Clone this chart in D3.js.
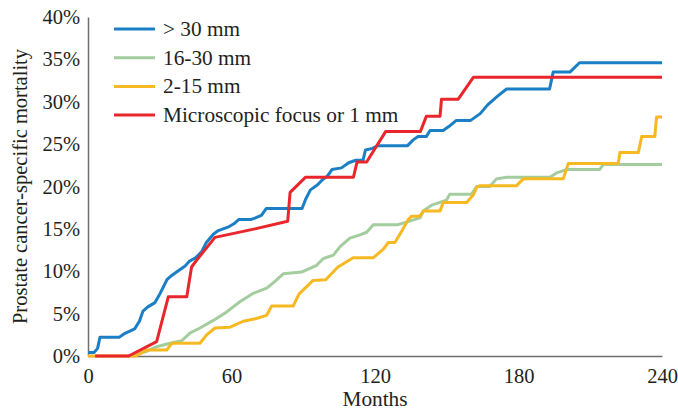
<!DOCTYPE html>
<html>
<head>
<meta charset="utf-8">
<script src="https://cdn.jsdelivr.net/npm/d3@7"></script>
<style>
  html, body { margin: 0; padding: 0; background: #fff; }
  #app { width: 678px; height: 410px; }
  text { font-family: "Liberation Serif", "DejaVu Serif", serif; fill: #231f20; }
</style>
</head>
<body>
<div id="app"></div>
<script>
// series: [month, mortality %]
const over30 = [[0,0.4],[2.5,0.4],[4,0.9],[5,2.2],[13,2.2],[15,2.6],[19.5,3.2],[21.5,4.1],[23,5.3],[25,5.8],[28,6.3],[30,7.3],[33,9.0],[35,9.5],[38.5,10.2],[40.5,10.6],[42.5,11.2],[45,11.6],[47.5,12.3],[49.5,13.4],[52.5,14.4],[54.5,14.8],[58.5,15.2],[61,15.6],[63,16.1],[68,16.1],[70,16.3],[72.5,16.6],[74.5,17.4],[89.5,17.4],[91,18.5],[93,19.6],[96,20.2],[98,20.8],[100,21.2],[102,22.0],[106,22.2],[109,22.8],[112,23.1],[115,23.1],[116,24.3],[119,24.5],[121,24.8],[133.5,24.8],[136,25.5],[138,25.9],[141.5,25.9],[143,26.6],[148.5,26.6],[151,27.1],[154,27.8],[160,27.8],[164,28.6],[167,29.6],[171,30.6],[175,31.5],[193,31.5],[194.5,33.5],[201.5,33.5],[205.5,34.6],[240,34.6]];
const mm16to30 = [[19,0.1],[24,0.5],[28.7,1.1],[34.3,1.5],[39.2,1.8],[42.6,2.7],[46.8,3.3],[52.4,4.2],[58,5.2],[63.5,6.4],[69.1,7.4],[74.7,8.0],[78.2,8.8],[81.6,9.7],[89.3,9.9],[95.6,10.7],[98.4,11.5],[102.6,11.9],[105.4,12.9],[109.5,13.9],[113.7,14.3],[116.5,14.6],[119.3,15.5],[129.7,15.5],[138.8,16.3],[140.2,17.1],[143.7,17.8],[149.9,18.4],[151.3,19.1],[160.4,19.1],[162.5,20.0],[168,20.0],[170.8,20.9],[175,21.1],[193.1,21.1],[195.9,21.6],[200.1,22.0],[214,22.0],[215.4,22.6],[240,22.6]];
const mm2to15 = [[0,0],[20,0],[24.5,0.7],[32.9,0.7],[35,1.5],[46.8,1.5],[49.6,2.5],[53.1,3.3],[59.4,3.4],[64.9,4.1],[70,4.4],[74.7,4.8],[76.8,5.9],[85.8,5.9],[88.2,7.3],[90,7.8],[94,8.9],[99.4,9.0],[104.5,10.5],[110.9,11.6],[119.3,11.6],[123.5,12.6],[125.6,13.4],[128.3,13.4],[131.1,14.7],[133.9,16.1],[135.3,16.5],[138.8,16.5],[140.2,17.1],[147.2,17.1],[148.5,18.1],[158.3,18.1],[161.1,19.0],[162.5,19.9],[163.9,20.1],[179.2,20.1],[182,20.9],[198.7,20.9],[200.8,22.7],[221.7,22.7],[222.4,24.0],[230.1,24.0],[231.5,25.9],[237,25.9],[237.7,28.2],[240,28.2]];
const microscopic = [[3,0],[17,0],[28.7,1.7],[33.6,7.0],[41.3,7.0],[43.3,10.5],[45.4,11.3],[53.1,14.0],[69.8,15.0],[83.5,15.9],[84.5,19.3],[91,21.1],[111,21.1],[112.5,22.9],[116.5,22.9],[124.5,26.5],[139,26.5],[141.5,28.3],[147.2,28.3],[147.8,30.3],[154.8,30.3],[161.2,32.9],[240,32.9]];

const seriesNames = ['> 30 mm', '16-30 mm', '2-15 mm', 'Microscopic focus or 1 mm'];
const seriesColors = ['#1b7fc6', '#a3cc9f', '#f6b922', '#e8262b'];
const seriesData = [over30, mm16to30, mm2to15, microscopic];

const xTicks = [0, 60, 120, 180, 240];
const yTicks = [0, 5, 10, 15, 20, 25, 30, 35, 40];

const width = 678;
const height = 410;
const margin = { top: 17, right: 16, bottom: 54, left: 88 };

const svg = d3.select('#app').append('svg')
	.attr('width', width)
	.attr('height', height);

const x = d3.scaleLinear().domain([0, 240]).range([margin.left, width - margin.right]);
const y = d3.scaleLinear().domain([0, 40]).range([height - margin.bottom, margin.top]);

// axes
const xAxis = svg.append('g')
	.attr('transform', `translate(0,${height - margin.bottom})`)
	.call(d3.axisBottom(x).tickValues(xTicks).tickSize(0).tickPadding(12));
const yAxis = svg.append('g')
	.attr('transform', `translate(${margin.left},0)`)
	.call(d3.axisLeft(y).tickValues(yTicks).tickSize(0).tickPadding(8).tickFormat((d) => d + '%'));

[xAxis, yAxis].forEach((g) => {
	g.select('.domain').attr('stroke', '#6d6e71').attr('stroke-width', 1.5);
	g.selectAll('text')
		.attr('font-family', '"Liberation Serif", serif')
		.attr('font-size', 20.5)
		.attr('fill', '#231f20');
});

// lines
const line = d3.line()
	.x((d) => x(d[0]))
	.y((d) => y(d[1]));

svg.selectAll('path.series')
	.data(seriesData)
	.join('path')
	.attr('class', 'series')
	.attr('d', line)
	.attr('fill', 'none')
	.attr('stroke', (d, i) => seriesColors[i])
	.attr('stroke-width', 3)
	.attr('stroke-linejoin', 'round');

// legend
const legend = svg.append('g').attr('transform', 'translate(114,29)');
const item = legend.selectAll('g')
	.data(seriesNames)
	.join('g')
	.attr('transform', (d, i) => `translate(0,${i * 28.7})`);
item.append('line')
	.attr('x1', 0).attr('x2', 41)
	.attr('stroke', (d, i) => seriesColors[i])
	.attr('stroke-width', 3);
item.append('text')
	.attr('x', 49)
	.attr('y', 7)
	.attr('font-size', 21.3)
	.text((d) => d);

// axis titles
svg.append('text')
	.attr('x', x(120))
	.attr('y', 406)
	.attr('text-anchor', 'middle')
	.attr('font-size', 21.3)
	.text('Months');

svg.append('text')
	.attr('transform', `translate(27,${(y(0) + y(40)) / 2}) rotate(-90)`)
	.attr('text-anchor', 'middle')
	.attr('font-size', 20.5)
	.text('Prostate cancer-specific mortality');
</script>
</body>
</html>
